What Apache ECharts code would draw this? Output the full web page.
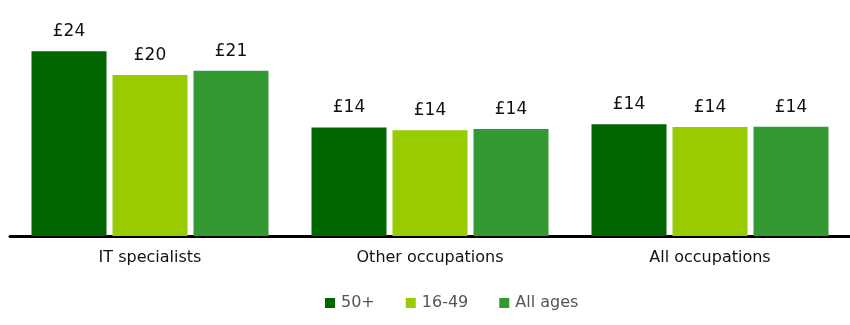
<!DOCTYPE html>
<html>
<head>
<meta charset="utf-8">
<script src="https://cdn.jsdelivr.net/npm/echarts@6/dist/echarts.min.js"></script>
<style>html,body{margin:0;padding:0;background:#fff;}#chart{width:850px;height:325px;}</style>
</head>
<body>
<div id="chart"></div>
<script>
const categories = ['IT specialists', 'Other occupations', 'All occupations'];
const seriesNames = ['50+', '16-49', 'All ages'];
const values50 = [24.0, 14.1, 14.5];
const values1649 = [20.9, 13.75, 14.15];
const valuesAll = [21.45, 13.9, 14.2];
const labels50 = ['£24', '£14', '£14'];
const labels1649 = ['£20', '£14', '£14'];
const labelsAll = ['£21', '£14', '£14'];
const colors = ['#006600', '#99cc00', '#339933'];

const chart = echarts.init(document.getElementById('chart'), null, {renderer: 'canvas'});
const font = '"DejaVu Sans", sans-serif';
function mk(name, vals, labs, color) {
  return {
    name: name, type: 'bar', data: vals, barWidth: 75, barGap: '8%',
    itemStyle: {color: color},
    label: {show: true, position: 'top', distance: 11, color: '#111111', fontSize: 17, fontFamily: font,
      formatter: p => labs[p.dataIndex]}
  };
}
chart.setOption({
  animation: false,
  grid: {left: 10, right: 0, top: 5, bottom: 89, containLabel: false},
  legend: {
    data: seriesNames, left: 320, top: 290, itemWidth: 10, itemHeight: 10, itemGap: 31,
    icon: 'rect', textStyle: {color: '#555555', fontSize: 16, fontFamily: font, padding: [0,0,0,1]}
  },
  xAxis: {
    type: 'category', data: categories,
    axisLine: {show: true, lineStyle: {color: '#000', width: 3}},
    axisTick: {show: false},
    axisLabel: {color: '#111111', fontSize: 16, fontFamily: font, margin: 14}
  },
  yAxis: {type: 'value', min: 0, max: 30, show: false, splitLine: {show: false}},
  series: [
    mk(seriesNames[0], values50, labels50, colors[0]),
    mk(seriesNames[1], values1649, labels1649, colors[1]),
    mk(seriesNames[2], valuesAll, labelsAll, colors[2])
  ]
});
</script>
</body>
</html>
